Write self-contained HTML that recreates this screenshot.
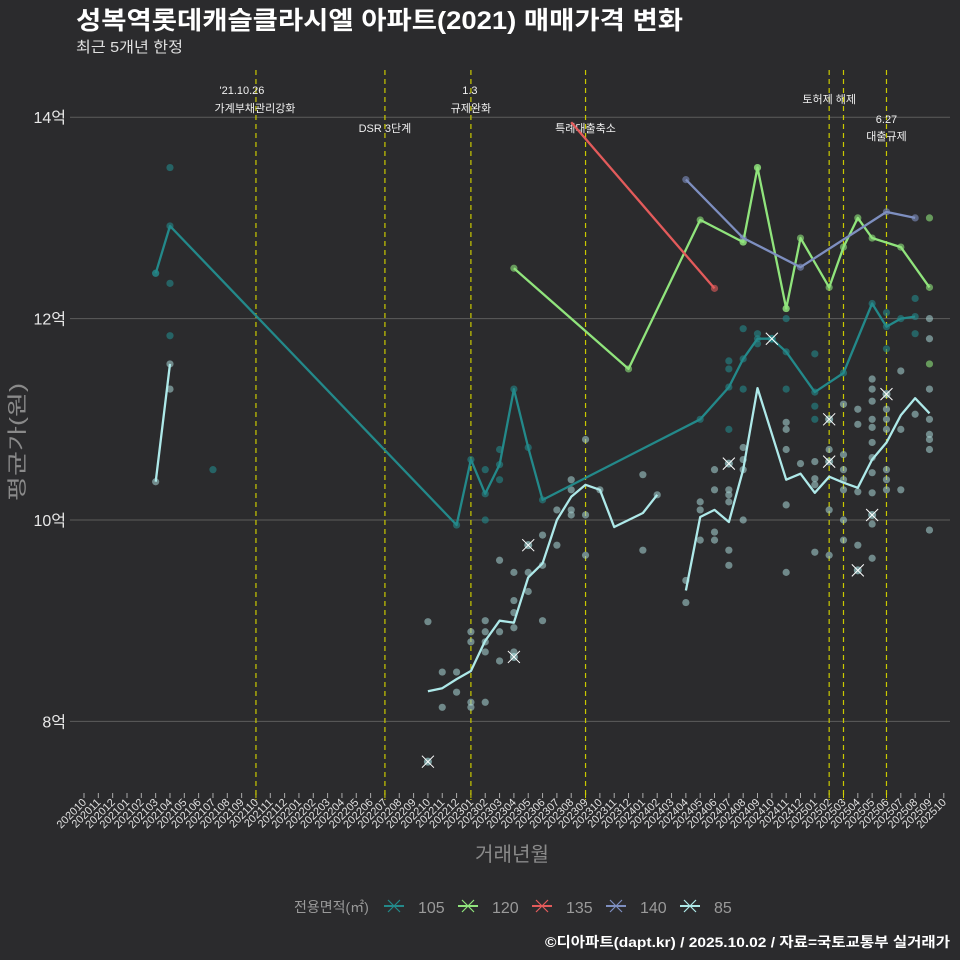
<!DOCTYPE html>
<html><head><meta charset="utf-8">
<style>
html,body{margin:0;padding:0;background:#2b2b2d;}
svg{display:block;font-family:"Liberation Sans","Noto Sans CJK KR",sans-serif;}
</style></head>
<body>
<svg id="chart" width="960" height="960" viewBox="0 0 960 960">
<rect width="960" height="960" fill="#2b2b2d"/>
<text x="76" y="29" fill="#ffffff" font-size="25" font-weight="bold" textLength="607" lengthAdjust="spacingAndGlyphs">성복역롯데캐슬클라시엘 아파트(2021) 매매가격 변화</text>
<text x="76" y="52" fill="#e0e0e0" font-size="15" textLength="107" lengthAdjust="spacingAndGlyphs">최근 5개년 한정</text>
<g id="grid"></g><g id="vlines"></g><g id="series"></g><g id="xaxis"></g>
<text transform="translate(24,442) rotate(-90)" text-anchor="middle" fill="#8a8a8a" font-size="20" textLength="118" lengthAdjust="spacingAndGlyphs">평균가(원)</text>
<text x="512" y="861" text-anchor="middle" fill="#8a8a8a" font-size="20" textLength="74" lengthAdjust="spacingAndGlyphs">거래년월</text>
<g id="legend"></g>
<text x="950" y="947" text-anchor="end" fill="#ffffff" font-size="14" font-weight="bold" textLength="405" lengthAdjust="spacingAndGlyphs">©디아파트(dapt.kr) / 2025.10.02 / 자료=국토교통부 실거래가</text>
</svg>
<script>
// ---- data ----
const months = [];
for (let i = 0; i <= 60; i++) { const t = 2020*12 + 9 + i; months.push(String(Math.floor(t/12)) + String(t%12+1).padStart(2,'0')); }
const yTicks = [8, 10, 12, 14];
const yTickLabels = ['8억','10억','12억','14억'];
const eventIdx = [12, 21, 27, 35, 52, 53, 56];
const eventLabel1 = ["'21.10.26", "", "1.3", "", "토허제 해제", "", "6.27"];
const eventLabel2 = ["가계부채관리강화", "DSR 3단계", "규제완화", "특례대출축소", "", "", "대출규제"];
const seriesNames = ['105','120','135','140','85'];
const seriesColors = ['#23898a','#90e47c','#e35b5b','#7e8fc0','#aee9e9'];
const line105x = [5,6,26,27,28,29,30,31,32,43,45,46,47,48,49,51,53,55,56,57,58];
const line105y = [12.45,12.92,9.95,10.6,10.26,10.55,11.3,10.72,10.2,11.0,11.32,11.6,11.8,11.8,11.67,11.27,11.46,12.15,11.92,12.0,12.02];
const line120x = [30,38,43,46,47,49,50,52,53,54,55,57,59];
const line120y = [12.5,11.5,12.98,12.76,13.5,12.1,12.8,12.31,12.71,13.0,12.8,12.71,12.31];
const line135x = [34,44];
const line135y = [13.95,12.3];
const line140x = [42,46,50,56,58];
const line140y = [13.38,12.8,12.51,13.06,13.0];
const line85x = [5,6,null,24,25,26,27,28,29,30,31,32,33,34,35,36,37,39,40,null,42,43,44,45,46,47,49,50,51,52,53,54,55,56,57,58,59];
const line85y = [10.38,11.55,null,8.3,8.33,8.42,8.5,8.8,9.0,8.98,9.43,9.57,10.0,10.23,10.35,10.3,9.93,10.07,10.25,null,9.3,10.03,10.1,9.98,10.5,11.31,10.4,10.46,10.27,10.43,10.37,10.32,10.6,10.77,11.04,11.21,11.06];
const pts105x = [5,6,6,6,9,28,28,29,29,45,45,45,46,46,47,47,49,49,51,51,51,56,56,58,58];
const pts105y = [12.45,13.5,12.35,11.83,10.5,10.0,10.5,10.7,10.4,11.58,11.5,10.9,11.9,11.3,11.85,11.75,12.0,11.3,11.65,11.13,11.0,12.06,11.7,12.2,11.85];
const pts120x = [46,47,49,59,59];
const pts120y = [12.76,13.5,12.1,13.0,11.55];
const pts85x = [5,6,6,24,25,25,26,26,27,27,27,27,28,28,28,28,28,29,29,29,30,30,30,30,30,31,31,32,32,32,33,33,34,34,34,34,35,35,35,36,39,39,40,42,42,43,43,43,44,44,44,44,45,45,45,45,45,46,46,46,46,49,49,49,49,49,50,51,51,51,51,52,52,52,53,53,53,53,53,53,53,54,54,54,54,55,55,55,55,55,55,55,55,55,55,55,56,56,56,56,56,56,57,57,57,58,59,59,59,59,59,59,59,59];
const pts85y = [10.38,11.3,11.55,8.99,8.49,8.14,8.49,8.29,8.89,8.79,8.19,8.14,9.0,8.89,8.79,8.69,8.19,9.6,8.89,8.6,9.48,9.2,9.08,8.93,8.69,9.48,9.29,9.85,9.55,9.0,10.1,9.75,10.4,10.3,10.1,10.05,10.8,10.05,9.65,10.3,10.45,9.7,10.25,9.4,9.18,10.18,10.1,9.8,10.5,10.3,9.88,9.8,10.3,10.25,10.18,9.7,9.55,10.72,10.6,10.5,10.0,10.97,10.9,10.7,10.15,9.48,10.56,10.58,10.41,10.35,9.68,10.7,10.1,9.65,11.15,10.65,10.5,10.4,10.3,10.0,9.8,11.1,10.95,10.28,9.75,11.4,11.3,11.18,11.0,10.92,10.77,10.62,10.47,10.27,9.96,9.62,11.1,11.0,10.9,10.5,10.4,10.3,11.48,10.9,10.3,11.05,12.0,11.8,11.3,11.0,10.85,10.8,10.7,9.9];
const crossX = [24,30,31,45,48,52,52,54,55,56];
const crossY = [7.6,8.64,9.75,10.56,11.8,11.0,10.58,9.5,10.05,11.25];
const crossS = [4,4,4,4,0,4,4,4,4,4];

// ---- scales ----
const X = i => 84 + i * 14.33;
const Y = v => 520 - (v - 10) * 100.7;
const NS = 'http://www.w3.org/2000/svg';
function mk(tag, attrs, parent){ const e=document.createElementNS(NS,tag); for(const k in attrs) e.setAttribute(k,attrs[k]); parent.appendChild(e); return e; }

const grid = document.getElementById('grid');
yTicks.forEach((v,k)=>{
  const l = mk('line',{x1:70,x2:950,y1:Y(v),y2:Y(v),stroke:'#5c5c5c','stroke-width':1},grid);
  
  
  const t = mk('text',{x:66,y:Y(v)+6,'text-anchor':'end',fill:'#e8e8e8','font-size':16},grid);
  t.textContent = yTickLabels[k];
  
  
});

const vl = document.getElementById('vlines');
eventIdx.forEach((m,k)=>{
  const l = mk('line',{x1:X(m),x2:X(m),y1:70,y2:800,stroke:'#c9c900','stroke-width':1.2,'stroke-dasharray':'5,4'},vl);
  
  
  const hi = (k===1||k===3||k===6);
  const y1 = k===6 ? 123 : (k===4 ? 103 : 94);
  if (eventLabel1[k]) {
    const t = mk('text',{x:X(m)-(k===0?14:0)+(k===2?-1:0),y:y1,'text-anchor':'middle',fill:'#f0f0f0','font-size':11},vl);
    t.textContent = eventLabel1[k];
    
    
  }
  if (eventLabel2[k]) {
    const y2 = k===6 ? 140 : (hi ? 132 : 112);
    const t = mk('text',{x:X(m)+(k===0?-1:0),y:y2,'text-anchor':'middle',fill:'#f0f0f0','font-size':11},vl);
    t.textContent = eventLabel2[k];
    
    
  }
});

const sg = document.getElementById('series');
function dots(xs, ys, color, name){
  xs.forEach((m,k)=>{
    const c = mk('circle',{cx:X(m),cy:Y(ys[k]),r:3.6,fill:color,opacity:0.6},sg);
    
    
  });
}
function line(xs, ys, color, name){
  let d='', pen=false;
  xs.forEach((m,k)=>{ if(m===null){pen=false;return;} d += (pen?'L':'M') + X(m).toFixed(1)+','+Y(ys[k]).toFixed(1); pen=true; });
  const p = mk('path',{d:d,fill:'none',stroke:color,'stroke-width':2.3,'stroke-linejoin':'round'},sg);
  
  
}
dots(pts105x, pts105y, '#23898a', 'point-105');
dots(pts85x, pts85y, '#9fc8c8', 'point-85');
dots(pts120x, pts120y, '#90e47c', 'point-120');
dots(line105x, line105y, '#23898a', 'point-105');
dots(line120x, line120y, '#90e47c', 'point-120');
dots(line135x.slice(1), line135y.slice(1), '#e35b5b', 'point-135');
dots(line140x, line140y, '#7e8fc0', 'point-140');
line(line105x, line105y, '#23898a', 'line-105');
line(line120x, line120y, '#90e47c', 'line-120');
line(line135x, line135y, '#e35b5b', 'line-135');
line(line140x, line140y, '#7e8fc0', 'line-140');
line(line85x, line85y, '#aee9e9', 'line-85');
crossX.forEach((m,k)=>{
  const cx=X(m), cy=Y(crossY[k]), s=6, col=seriesColors[crossS[k]];
  mk('circle',{cx:cx,cy:cy,r:4,fill:col,opacity:0.6},sg);
  const p = mk('path',{d:`M${cx-s},${cy-s}L${cx+s},${cy+s}M${cx-s},${cy+s}L${cx+s},${cy-s}`,stroke:'#ffffff','stroke-width':1},sg);
  
  
});

const xa = document.getElementById('xaxis');
months.forEach((lab,i)=>{
  const hl = eventIdx.includes(i);
  mk('line',{x1:X(i),x2:X(i),y1:793,y2:798,stroke:hl?'#d4d400':'#aaaaaa','stroke-width':1},xa);
  const t = mk('text',{x:X(i)+3,y:803,'text-anchor':'end',fill:'#e0e0e0','font-size':11,transform:`rotate(-45 ${X(i)+3} 803)`},xa);
  t.textContent = lab;
  
  
});

const lg = document.getElementById('legend');
const lt = mk('text',{x:294,y:912,fill:'#9a9a9a','font-size':14},lg);
lt.textContent = '전용면적(㎡)';


const legX = [384, 458, 532, 606, 680];
seriesNames.forEach((n,k)=>{
  const g = mk('g',{},lg);
  
  
  const x0 = legX[k], cy = 906;
  mk('line',{x1:x0,x2:x0+20,y1:cy,y2:cy,stroke:seriesColors[k],'stroke-width':2},g);
  mk('path',{d:`M${x0+4},${cy-6}L${x0+16},${cy+6}M${x0+4},${cy+6}L${x0+16},${cy-6}`,stroke:seriesColors[k],'stroke-width':1.2},g);
  const t = mk('text',{x:x0+34,y:cy+7,fill:'#9a9a9a','font-size':16},g);
  t.textContent = n;
});
</script>
</body></html>
